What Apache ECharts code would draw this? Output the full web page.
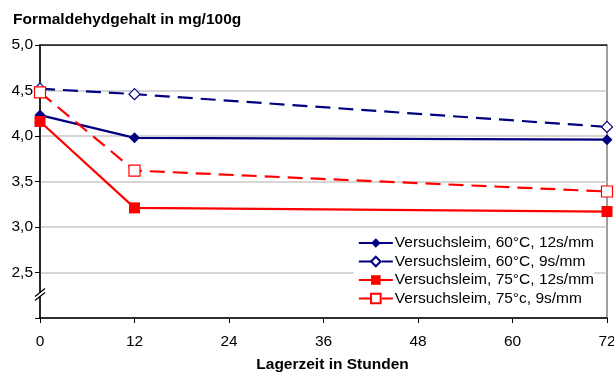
<!DOCTYPE html>
<html><head><meta charset="utf-8">
<script src="https://cdn.jsdelivr.net/npm/echarts@6/dist/echarts.min.js"></script>
<style>html,body{margin:0;padding:0;background:#fff}#c{width:614px;height:372px}</style>
</head><body><div id="c"></div>
<script>
const hours = [0, 12, 72];
const xTicks = [0, 12, 24, 36, 48, 60, 72];
const s60_12 = [4.23, 3.98, 3.96];
const s60_9 = [4.52, 4.46, 4.10];
const s75_12 = [4.16, 3.21, 3.17];
const s75_9 = [4.48, 3.62, 3.39];
const names = ['Versuchsleim, 60°C, 12s/mm','Versuchsleim, 60°C, 9s/mm','Versuchsleim, 75°C, 12s/mm','Versuchsleim, 75°c, 9s/mm'];
const pairs = a => hours.map((h,i)=>[h,a[i]]);
const font = 'Liberation Sans, Arial, sans-serif';
const chart = echarts.init(document.getElementById('c'));
const navy = '#000080', red = '#ff0000';
function ser(name, data, color, dashed, symbol, filled, size){
  return {name, type:'line', data:pairs(data), symbol, symbolSize:size,
    lineStyle:{color, width:2.2, type: dashed ? [15,8] : 'solid'},
    itemStyle:{color: filled ? color : '#fff', borderColor: color, borderWidth: filled?0:1.2},
    z: 3};
}
chart.setOption({
  animation:false,
  textStyle:{fontFamily:font},
  title:{text:'Formaldehydgehalt in mg/100g', left:8, top:7, textStyle:{fontSize:15.5, fontWeight:'bold', color:'#000', fontFamily:font}},
  grid:{left:40, right:7, top:45, bottom:54, show:true, borderColor:'#808080', borderWidth:1.5, containLabel:false, outerBoundsMode:'none'},
  legend:{orient:'vertical', right:20, top:233, itemWidth:34, itemHeight:12, itemGap:2.5,
    backgroundColor:'#fff', padding:[2,0,2,4],
    textStyle:{fontSize:15.5, color:'#000', fontFamily:font, padding:[0,0,0,-3]}, data:names, z:10},
  xAxis:{type:'value', min:0, max:72, interval:12,
    name:'Lagerzeit in Stunden', nameLocation:'middle', nameGap:39,
    nameTextStyle:{fontSize:15.5, fontWeight:'bold', color:'#000', fontFamily:font, padding:[0,0,0,18]},
    axisLine:{lineStyle:{color:'#000', width:1.5}},
    axisTick:{show:true, length:5, lineStyle:{color:'#000'}},
    axisLabel:{fontSize:15.5, color:'#000', margin:16, fontFamily:font},
    splitLine:{show:false}},
  yAxis:{type:'value', min:2, max:5, interval:0.5,
    axisLine:{show:true, lineStyle:{color:'#000', width:1.5}},
    axisTick:{show:true, length:5, lineStyle:{color:'#000'}},
    axisLabel:{fontSize:15.5, color:'#000', margin:7, fontFamily:font,
      formatter:v=> v===2 ? '' : v.toFixed(1).replace('.',',')},
    splitLine:{show:true, lineStyle:{color:'#c8c8c8', width:1.5}}},
  series:[
    ser(names[0], s60_12, navy, false, 'diamond', true, 11),
    ser(names[1], s60_9, navy, true, 'diamond', false, 11),
    ser(names[2], s75_12, red, false, 'rect', true, 11),
    ser(names[3], s75_9, red, true, 'rect', false, 11),
    {type:'line', data:[[0,5],[72,5]], symbol:'none', silent:true,
      lineStyle:{color:'#000', width:1.5}, z:2}
  ]
});
const p = chart.convertToPixel({gridIndex:0},[0,2.27]);
chart.setOption({graphic:[
  {type:'line', shape:{x1:p[0]-5,y1:p[1]+3,x2:p[0]+5,y2:p[1]-5}, style:{stroke:'#000',lineWidth:1.2}, z:20},
  {type:'line', shape:{x1:p[0]-5,y1:p[1]+7,x2:p[0]+5,y2:p[1]-1}, style:{stroke:'#000',lineWidth:1.2}, z:20},
  {type:'rect', shape:{x:p[0]-1.5,y:p[1]-1,width:3,height:4}, style:{fill:'#fff'}, z:19}
]});
</script></body></html>
